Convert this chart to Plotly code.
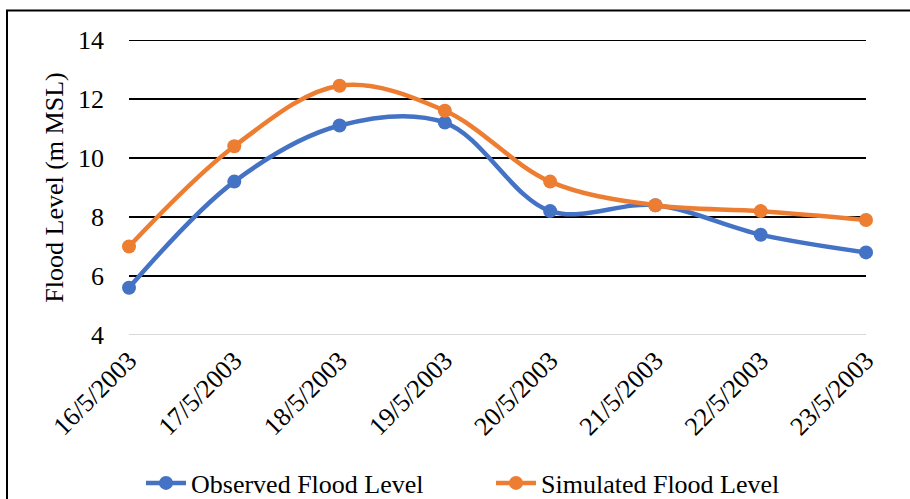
import plotly.graph_objects as go

dates = ["16/5/2003", "17/5/2003", "18/5/2003", "19/5/2003", "20/5/2003", "21/5/2003", "22/5/2003", "23/5/2003"]
observed = [5.6, 9.2, 11.1, 11.2, 8.2, 8.4, 7.4, 6.8]
simulated = [7.0, 10.4, 12.45, 11.6, 9.2, 8.4, 8.2, 7.9]
y_ticks = [4, 6, 8, 10, 12, 14]

FONT = "Liberation Serif"
x_idx = list(range(len(dates)))

fig = go.Figure()
fig.add_trace(go.Scatter(x=x_idx, y=observed, name="Observed Flood Level", mode="lines+markers",
                         line=dict(color="#4472C4", width=4.5, shape="spline", smoothing=1.0),
                         marker=dict(size=14, color="#4472C4"), cliponaxis=False))
fig.add_trace(go.Scatter(x=x_idx, y=simulated, name="Simulated Flood Level", mode="lines+markers",
                         line=dict(color="#ED7D31", width=4.5, shape="spline", smoothing=1.0),
                         marker=dict(size=14, color="#ED7D31"), cliponaxis=False))

W, H = 910, 499
L, R, T, B = 129, 44, 40, 164
pw, ph = W - L - R, H - T - B


def px_x(p):
    return (p - L) / pw


def px_y(p):
    return (H - B - p) / ph


fig.update_layout(
    width=W, height=H,
    margin=dict(l=L, r=R, t=T, b=B, autoexpand=False),
    paper_bgcolor="white", plot_bgcolor="white",
    font=dict(family=FONT, size=26, color="black"),
    showlegend=True,
    legend=dict(orientation="h", x=px_x(491), xanchor="center", y=px_y(483), yanchor="middle",
                font=dict(family=FONT, size=26), itemwidth=40,
                entrywidth=295, entrywidthmode="pixels"),
    xaxis=dict(range=[0, len(dates) - 1], tickmode="array", tickvals=x_idx, ticktext=dates,
               tickangle=-45, tickfont=dict(family=FONT, size=26), showgrid=False,
               showline=False, zeroline=False, ticks="", ticklabelstandoff=4, automargin=False),
    yaxis=dict(range=[4, 14], tickvals=y_ticks, showgrid=True, gridcolor="black", gridwidth=1.5,
               zeroline=False, showline=False, ticks="", tickfont=dict(family=FONT, size=26),
               ticklabelstandoff=24, automargin=False,
               title=dict(text="Flood Level (m MSL)", font=dict(family=FONT, size=26), standoff=6)),
)

# top gridline at 14 (plotly omits the one on the range edge)
fig.add_shape(type="line", xref="paper", yref="y", x0=0, x1=1, y0=y_ticks[-1], y1=y_ticks[-1],
              line=dict(color="black", width=2), layer="below")
# light grey baseline at y=4
fig.add_shape(type="line", xref="paper", yref="y", x0=0, x1=1, y0=y_ticks[0], y1=y_ticks[0],
              line=dict(color="#D9D9D9", width=2), layer="below")
# outer chart border (cropped on right/bottom)
fig.add_shape(type="rect", xref="paper", yref="paper",
              x0=px_x(7), x1=px_x(915), y0=px_y(505), y1=px_y(10.5),
              line=dict(color="black", width=2), fillcolor="rgba(0,0,0,0)")

fig.write_html("out.html")
